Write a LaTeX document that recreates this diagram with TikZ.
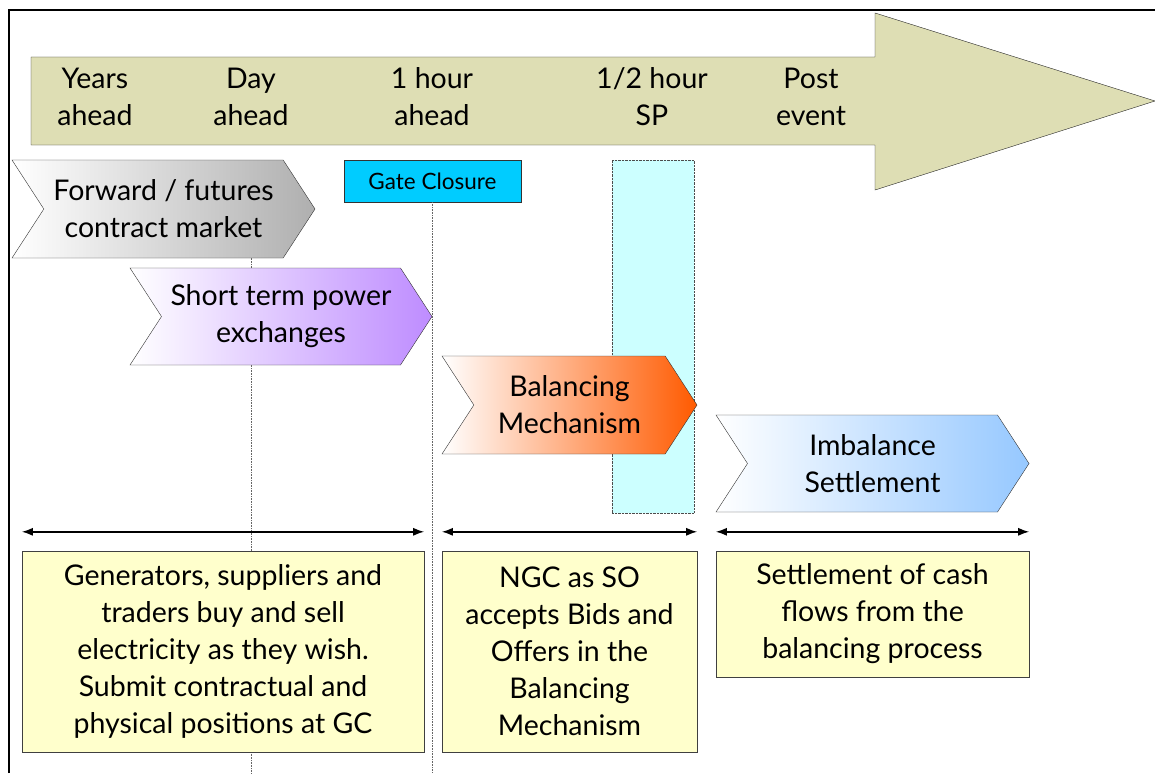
\documentclass[tikz,border=0pt]{standalone}
\usepackage{fontspec}
\setmainfont{Lato}
\usepackage{tikz}
\usetikzlibrary{shapes.symbols,arrows.meta}
\definecolor{timeline}{RGB}{222,222,180}
\definecolor{gatecyan}{RGB}{0,204,255}
\definecolor{spcyan}{RGB}{204,255,255}
\definecolor{fwdgray}{RGB}{175,175,175}
\definecolor{stpurple}{RGB}{190,140,255}
\definecolor{bmorange}{RGB}{255,90,0}
\definecolor{isblue}{RGB}{150,200,255}
\definecolor{noteyellow}{RGB}{255,255,204}
\newcommand{\bigtext}{\fontsize{28.5}{37}\selectfont}
\tikzstyle{phase} = [shape=signal, signal from=west, signal to=east, signal pointer angle=114, draw=black!80, inner sep=0pt, align=center, font=\bigtext]
\tikzstyle{when} = [align=center, font=\bigtext, inner sep=0pt]
\tikzstyle{note} = [rectangle, draw=black!75, fill=noteyellow, align=center, inner sep=0pt, font=\bigtext]
\tikzstyle{span} = [{Latex[length=11pt,width=8pt]}-{Latex[length=11pt,width=8pt]}, line width=1.4pt]
\tikzstyle{guide} = [densely dotted, black!60, line width=0.6pt]

\begin{document}
\begin{tikzpicture}[x=1pt, y=-1pt]
    \useasboundingbox (0,0) rectangle (1155,773);
    \draw[line width=2pt] (9,773) -- (9,10) -- (1155,10);
    % timeline arrow
    \draw[fill=timeline, draw=black!85] (31,57) -- (875,57) -- (875,13) -- (1155,101) -- (875,190) -- (875,145) -- (31,145) -- cycle;
    \node[when] (years) at (95,97) {Years\\ahead};
    \node[when] (day) at (251,97) {Day\\ahead};
    \node[when] (hour) at (432,97) {1 hour\\ahead};
    \node[when] (sp) at (652,97) {1/2 hour\\SP};
    \node[when] (post) at (811,97) {Post\\event};
    % guides
    \node[draw=black!80, fill=gatecyan, minimum width=177pt, minimum height=42pt, inner sep=0pt, font=\fontsize{22.5}{26}\selectfont] (gate) at (432.5,181) {Gate Closure};
    \draw[guide] (251,160) -- (251,773);
    \draw[guide] (gate.south) -- (432.5,773);
    \node[draw=black!70, densely dotted, fill=spcyan, minimum width=82pt, minimum height=353pt, inner sep=0pt] (window) at (653,336.5) {};
    % phases
    \node[phase, left color=white, right color=fwdgray, minimum width=303pt, minimum height=98pt] (fwd) at (163.5,209) {Forward / futures\\contract market};
    \node[phase, left color=white, right color=stpurple, minimum width=302pt, minimum height=97pt] (px) at (281,316.5) {Short term power\\exchanges};
    \node[phase, left color=white, right color=bmorange, minimum width=255pt, minimum height=98pt] (bm) at (569.5,405) {Balancing\\Mechanism};
    \node[phase, left color=white, right color=isblue, minimum width=313pt, minimum height=97pt] (imb) at (872.5,463.5) {Imbalance\\Settlement};
    % notes
    \node[note, minimum width=402pt, minimum height=201pt] (trade) at (223,651.5) {Generators, suppliers and\\traders buy and sell\\electricity as they wish.\\Submit contractual and\\physical positions at GC};
    \node[note, minimum width=255pt, minimum height=201pt] (ngc) at (569.5,651.5) {NGC as SO\\accepts Bids and\\Offers in the\\Balancing\\Mechanism};
    \node[note, minimum width=313pt, minimum height=126pt] (cash) at (872.5,614) {Settlement of cash\\flows from the\\balancing process};
    \draw[span] ([yshift=19pt]trade.north west) -- ([yshift=19pt]trade.north east);
    \draw[span] ([yshift=19pt]ngc.north west) -- ([yshift=19pt]ngc.north east);
    \draw[span] ([yshift=19pt]cash.north west) -- ([yshift=19pt]cash.north east);
\end{tikzpicture}
\end{document}
